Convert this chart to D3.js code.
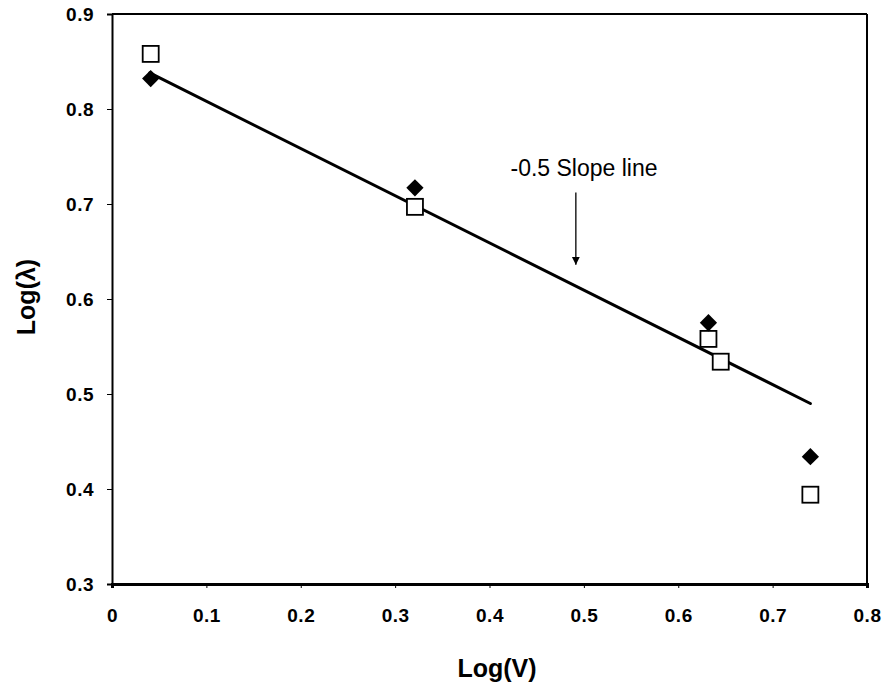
<!DOCTYPE html>
<html>
<head>
<meta charset="utf-8">
<script src="https://cdn.jsdelivr.net/npm/d3@7"></script>
<style>
  body { margin: 0; background: #fff; }
</style>
</head>
<body>
<div id="chart"></div>
<script>
// Data
const diamondX = [0.041, 0.321, 0.632, 0.740]
const diamondY = [0.832, 0.717, 0.575, 0.434]
const squareX = [0.041, 0.321, 0.632, 0.645, 0.740]
const squareY = [0.858, 0.697, 0.558, 0.534, 0.394]
const fitX = [0.04, 0.74]
const fitY = [0.838, 0.490]
const xTicks = [0, 0.1, 0.2, 0.3, 0.4, 0.5, 0.6, 0.7, 0.8]
const yTicks = [0.3, 0.4, 0.5, 0.6, 0.7, 0.8, 0.9]
const xTickLabels = ["0", "0.1", "0.2", "0.3", "0.4", "0.5", "0.6", "0.7", "0.8"]
const yTickLabels = ["0.3", "0.4", "0.5", "0.6", "0.7", "0.8", "0.9"]
const arrowX = 0.4915
const arrowY = [0.712, 0.636]

const dimensions = { width: 888, height: 692, left: 112, right: 867, top: 14, bottom: 584 }
const font = "'Liberation Sans', Arial, Helvetica, sans-serif"

const svg = d3.select('#chart')
  .append("svg")
  .attr("width", dimensions.width)
  .attr("height", dimensions.height)
  .style("font-family", font)

const xScale = d3.scaleLinear().domain([0, 0.8]).range([dimensions.left, dimensions.right])
const yScale = d3.scaleLinear().domain([0.3, 0.9]).range([dimensions.bottom, dimensions.top])

// Frame
svg.append("line")
  .attr("x1", dimensions.left).attr("x2", dimensions.right)
  .attr("y1", dimensions.top).attr("y2", dimensions.top)
  .attr("stroke", "#000").attr("stroke-width", 2)
svg.append("line")
  .attr("x1", dimensions.right).attr("x2", dimensions.right)
  .attr("y1", dimensions.top).attr("y2", dimensions.bottom)
  .attr("stroke", "#000").attr("stroke-width", 2)

// Axes (lines and ticks only)
const xAxis = svg.append("g")
  .attr("transform", `translate(0, ${dimensions.bottom})`)
  .call(d3.axisBottom(xScale).tickValues(xTicks).tickSize(4).tickFormat(() => ""))
xAxis.select(".domain").attr("stroke-width", 3)

const yAxis = svg.append("g")
  .attr("transform", `translate(${dimensions.left}, 0)`)
  .call(d3.axisLeft(yScale).tickValues(yTicks).tickSize(5).tickFormat(() => ""))
yAxis.select(".domain").attr("stroke-width", 2)

// Tick labels
svg.append("g").selectAll("text")
  .data(xTicks)
  .join("text")
  .attr("x", d => xScale(d) + 0.5)
  .attr("y", dimensions.bottom + 38)
  .attr("text-anchor", "middle")
  .attr("font-size", 19).attr("font-weight", "bold")
  .attr("letter-spacing", 0.5)
  .text((d, i) => xTickLabels[i])

svg.append("g").selectAll("text")
  .data(yTicks)
  .join("text")
  .attr("x", dimensions.left - 18)
  .attr("y", d => yScale(d) + 7)
  .attr("text-anchor", "end")
  .attr("font-size", 19).attr("font-weight", "bold")
  .attr("letter-spacing", 0.5)
  .text((d, i) => yTickLabels[i])

// Fit line
svg.append("line")
  .attr("x1", xScale(fitX[0])).attr("y1", yScale(fitY[0]))
  .attr("x2", xScale(fitX[1])).attr("y2", yScale(fitY[1]))
  .attr("stroke", "#000").attr("stroke-width", 3)
  .attr("stroke-linecap", "round")

// Squares
const sq = 16
svg.selectAll("rect.sq")
  .data(squareX.map((x, i) => [x, squareY[i]]))
  .join("rect")
  .classed("sq", true)
  .attr("x", d => xScale(d[0]) - sq / 2)
  .attr("y", d => yScale(d[1]) - sq / 2)
  .attr("width", sq).attr("height", sq)
  .attr("fill", "#fff").attr("stroke", "#000").attr("stroke-width", 1.8)

// Diamonds
const diamond = d3.symbol().type(d3.symbolDiamond2).size(190)
svg.selectAll("path.dm")
  .data(diamondX.map((x, i) => [x, diamondY[i]]))
  .join("path")
  .classed("dm", true)
  .attr("d", diamond)
  .attr("transform", d => `translate(${xScale(d[0])}, ${yScale(d[1])})`)
  .attr("fill", "#000")

// Annotation
svg.append("defs").append("marker")
  .attr("id", "arrow")
  .attr("viewBox", "0 0 10 10")
  .attr("refX", 10).attr("refY", 5)
  .attr("markerWidth", 8).attr("markerHeight", 10)
  .attr("markerUnits", "userSpaceOnUse")
  .attr("orient", "auto")
  .append("path").attr("d", "M0,0 L10,5 L0,10 z").attr("fill", "#000")

svg.append("line")
  .attr("x1", xScale(arrowX)).attr("x2", xScale(arrowX))
  .attr("y1", yScale(arrowY[0])).attr("y2", yScale(arrowY[1]))
  .attr("stroke", "#000").attr("stroke-width", 1.3)
  .attr("marker-end", "url(#arrow)")

svg.append("text")
  .attr("x", 584).attr("y", 176)
  .attr("text-anchor", "middle")
  .attr("font-size", 23)
  .text("-0.5 Slope line")

// Axis titles
svg.append("text")
  .attr("x", 497).attr("y", 677)
  .attr("text-anchor", "middle")
  .attr("font-size", 25).attr("font-weight", "bold")
  .text("Log(V)")

svg.append("text")
  .attr("transform", "translate(35, 297) rotate(-90)")
  .attr("text-anchor", "middle")
  .attr("font-size", 25).attr("font-weight", "bold")
  .text("Log(λ)")
</script>
</body>
</html>
